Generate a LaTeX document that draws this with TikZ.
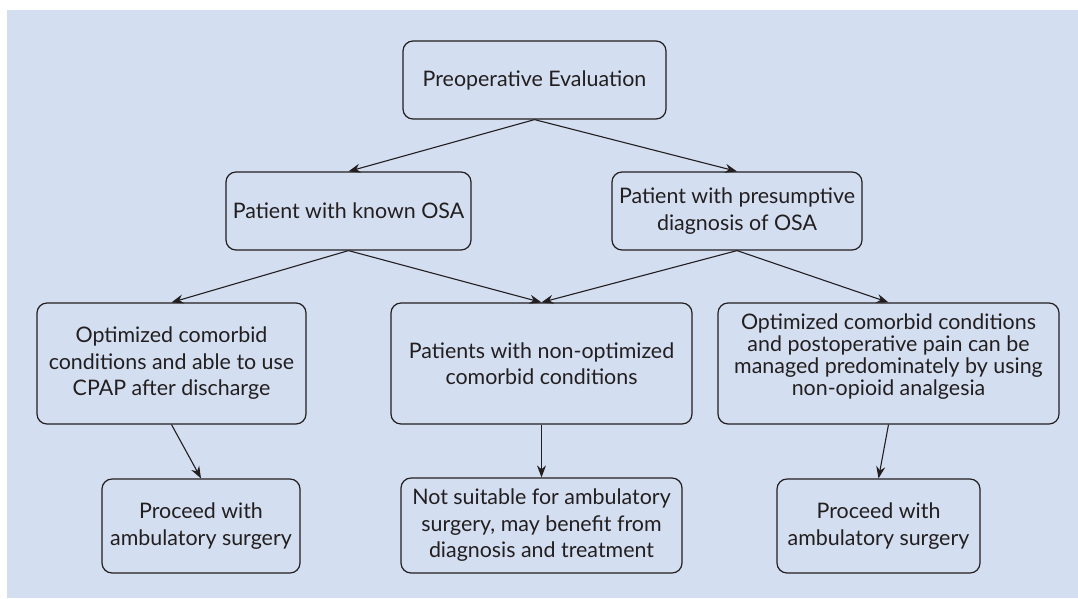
\documentclass[tikz,border=0pt]{standalone}
\usepackage{fontspec}
\setmainfont{Lato}
\usetikzlibrary{arrows.meta}
\definecolor{panel}{RGB}{211,222,240}
\definecolor{ink}{RGB}{35,31,32}
\tikzset{
  box/.style={draw=ink, line width=1.2pt, rounded corners=10pt, align=center,
    text=ink, inner sep=0pt, font=\fontsize{21.4}{26.5}\selectfont},
  dense/.style={font=\fontsize{21.4}{22}\selectfont},
  link/.style={draw=ink, line width=1.1pt, -{Stealth[length=12pt,width=9pt]}}
}
\begin{document}
\begin{tikzpicture}[x=1pt,y=-1pt]
  \useasboundingbox (0,0) rectangle (1078,598);
  \fill[panel] (7,10) rectangle (1078,598);

  % level 1
  \node[box, minimum width=263pt, minimum height=78pt] (eval) at (534.5,80) {Preoperative Evaluation};
  % level 2
  \node[box, minimum width=245pt, minimum height=78pt] (known) at (348.5,211) {Patient with known OSA};
  \node[box, minimum width=250pt, minimum height=78pt] (presumed) at (737,211) {Patient with presumptive\\diagnosis of OSA};
  % level 3
  \node[box, minimum width=269pt, minimum height=121pt] (optcpap) at (171.5,363.5) {Optimized comorbid\\conditions and able to use\\CPAP after discharge};
  \node[box, minimum width=301pt, minimum height=121pt] (nonopt) at (541.5,363.5) {Patients with non-optimized\\comorbid conditions};
  \node[box, minimum width=341pt, minimum height=121pt] (optpain) at (888.5,363.5) {};
  \node[box, draw=none, dense, yshift=7pt] (optpaintext) at (optpain.center) {Optimized comorbid conditions\\and postoperative pain can be\\managed predominately by using\\non-opioid analgesia};
  % level 4
  \node[box, minimum width=198pt, minimum height=94pt] (proceedA) at (201,526) {Proceed with\\ambulatory surgery};
  \node[box, minimum width=281pt, minimum height=95pt] (unsuitable) at (541.5,525.5) {Not suitable for ambulatory\\surgery, may benefit from\\diagnosis and treatment};
  \node[box, minimum width=203pt, minimum height=94pt] (proceedB) at (878.5,526) {Proceed with\\ambulatory surgery};

  % connectors
  \draw[link] (eval.south) -- (known.north);
  \draw[link] (eval.south) -- (presumed.north);
  \draw[link] (known.south) -- (optcpap.north);
  \draw[link] (known.south) -- (nonopt.north);
  \draw[link] (presumed.south) -- (nonopt.north);
  \draw[link] (presumed.south) -- (optpain.north);
  \draw[link] (optcpap.south) -- (proceedA.north);
  \draw[link] (nonopt.south) -- (unsuitable.north);
  \draw[link] (optpain.south) -- (proceedB.north);
\end{tikzpicture}
\end{document}
